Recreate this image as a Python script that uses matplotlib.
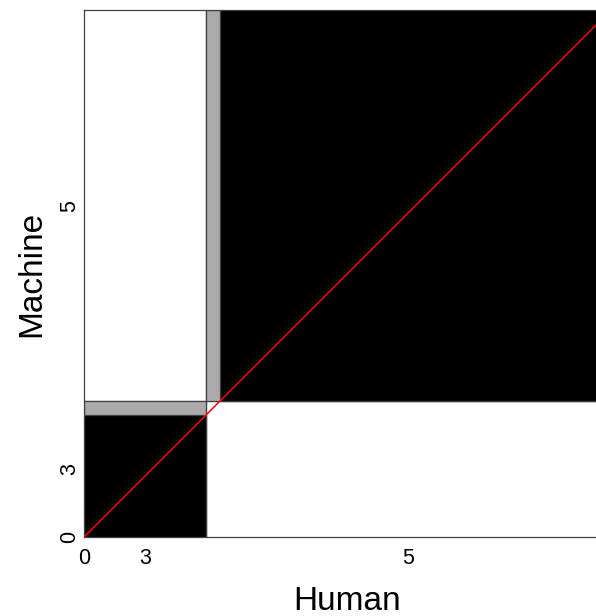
import numpy as np
import matplotlib.pyplot as plt
from matplotlib.patches import Rectangle

plt.rcParams['font.family'] = ['Liberation Sans', 'DejaVu Sans']

# agreement table: rows = Human, columns = Machine
categories = ['3', '5']
counts = np.array([[86, 0],
                   [10, 277]])

human_tot = counts.sum(axis=1)
machine_tot = counts.sum(axis=0)
N = counts.sum()
k = len(categories)

fig = plt.figure(figsize=(5.96, 6.16), dpi=100)
ax = fig.add_axes([84 / 596, 79 / 616, 527 / 596, 527 / 616])

x0 = np.concatenate([[0], np.cumsum(human_tot)])
y0 = np.concatenate([[0], np.cumsum(machine_tot)])
edge = '#404040'

for i in range(k):
    # marginal rectangle
    ax.add_patch(Rectangle((x0[i], y0[i]), human_tot[i], machine_tot[i],
                           facecolor='white', edgecolor=edge, lw=0.9, zorder=1))
    # partial agreement (neighbouring cells)
    left = counts[i, i - 1] if i > 0 else 0
    right = counts[i, i + 1] if i < k - 1 else 0
    below = counts[i - 1, i] if i > 0 else 0
    above = counts[i + 1, i] if i < k - 1 else 0
    bx = x0[i] + counts[i, :i].sum() - left
    by = y0[i] + counts[:i, i].sum() - below
    ax.add_patch(Rectangle((bx, by), counts[i, i] + left + right,
                           counts[i, i] + below + above,
                           facecolor='#aaaaaa', edgecolor=edge, lw=0.9, zorder=2))
    # exact agreement
    ax.add_patch(Rectangle((x0[i] + counts[i, :i].sum(), y0[i] + counts[:i, i].sum()),
                           counts[i, i], counts[i, i],
                           facecolor='black', edgecolor=edge, lw=0.9, zorder=3))

ax.plot([0, N], [0, N], color='red', lw=1.1, zorder=4)

ax.set_xlim(0, N)
ax.set_ylim(0, N)
for s in ax.spines.values():
    s.set_color(edge)
    s.set_linewidth(0.9)

xt = [0] + list(x0[:-1] + human_tot / 2)
yt = [0] + list(y0[:-1] + machine_tot / 2)
ax.set_xticks(xt)
ax.set_xticklabels(['0'] + categories, fontsize=15.5)
ax.set_yticks(yt)
ax.set_yticklabels(['0'] + categories, fontsize=15.5, rotation=90, va='center')
ax.tick_params(axis='x', length=0, pad=8)
ax.tick_params(axis='y', length=0, pad=3)

ax.set_xlabel('Human', fontsize=24, labelpad=12)
ax.set_ylabel('Machine', fontsize=24, labelpad=8)

fig.savefig('out.png', dpi=100)
